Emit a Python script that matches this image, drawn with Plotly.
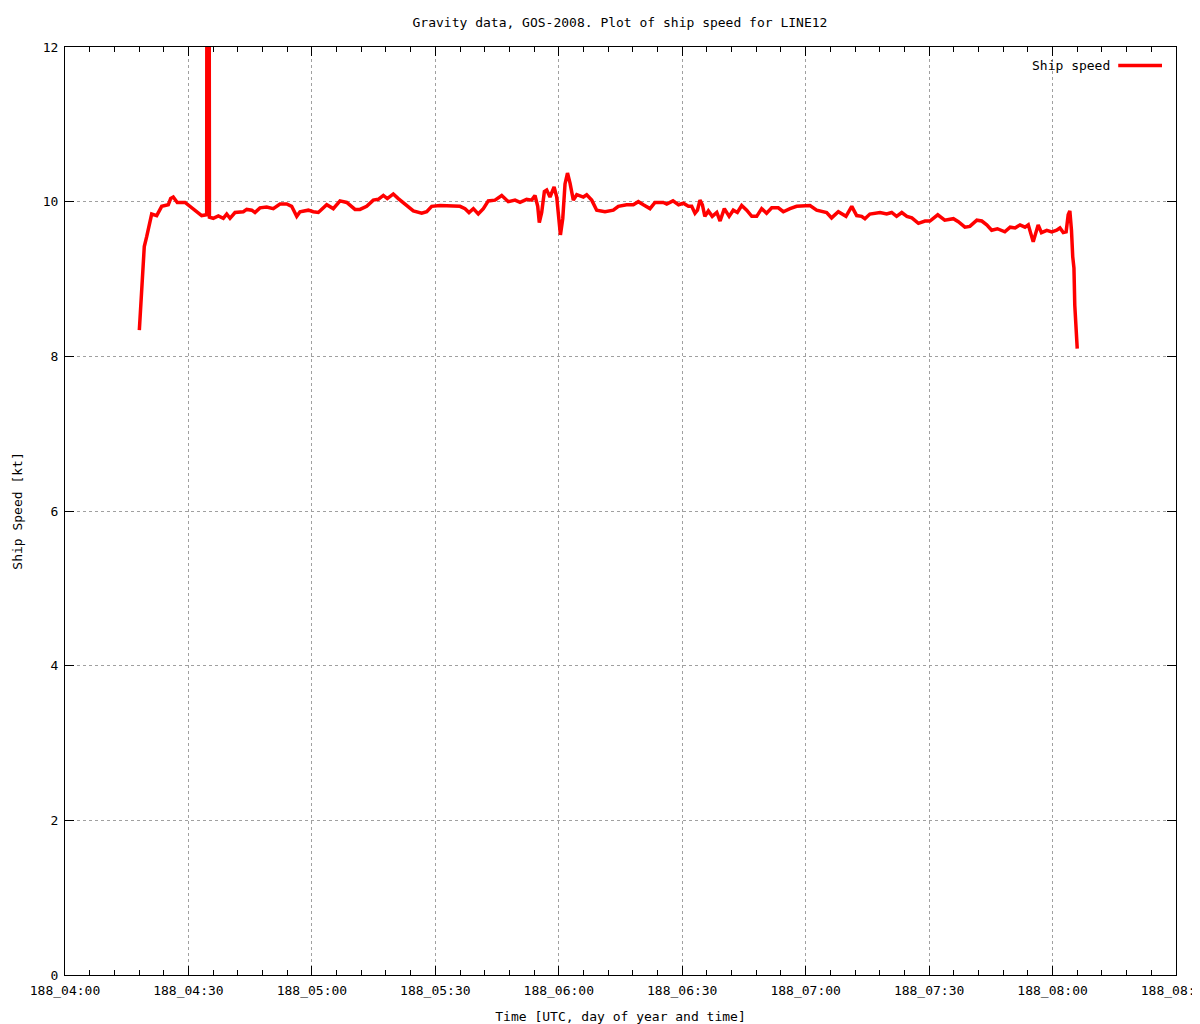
import plotly.graph_objects as go

DAY = "2008-07-06"  # day of year 188

times = [
    "04:18:04", "04:18:24", "04:18:48", "04:19:02", "04:19:16", "04:19:52", "04:20:25", "04:20:50",
    "04:21:04", "04:22:17", "04:23:05", "04:23:30", "04:25:06", "04:25:41", "04:26:19", "04:27:17",
    "04:29:10", "04:30:23", "04:32:00", "04:33:13", "04:34:26", "04:34:42", "04:35:06", "04:36:02",
    "04:37:16", "04:38:28", "04:39:18", "04:40:06", "04:41:19", "04:43:20", "04:44:10", "04:45:22",
    "04:46:10", "04:47:23", "04:49:01", "04:50:37", "04:52:15", "04:53:53", "04:55:05", "04:56:19",
    "04:57:07", "04:59:08", "05:00:20", "05:01:34", "05:03:36", "05:05:12", "05:06:50", "05:08:28",
    "05:10:29", "05:11:41", "05:13:19", "05:14:55", "05:16:08", "05:17:22", "05:18:20", "05:19:47",
    "05:21:00", "05:22:13", "05:23:26", "05:24:39", "05:26:41", "05:27:54", "05:29:07", "05:31:08",
    "05:36:00", "05:37:13", "05:38:11", "05:39:14", "05:40:26", "05:41:40", "05:42:52", "05:44:30",
    "05:46:08", "05:47:44", "05:49:22", "05:50:35", "05:52:12", "05:53:25", "05:54:13", "05:54:53",
    "05:55:16", "05:55:51", "05:56:30", "05:57:04", "05:57:52", "05:58:52", "05:59:30", "06:00:04",
    "06:00:24", "06:00:58", "06:01:31", "06:02:07", "06:02:44", "06:03:32", "06:04:22", "06:05:58",
    "06:06:47", "06:08:00", "06:09:13", "06:11:14", "06:13:15", "06:14:28", "06:16:30", "06:18:07",
    "06:19:20", "06:20:33", "06:22:10", "06:23:23", "06:25:24", "06:26:14", "06:27:45", "06:29:06",
    "06:30:16", "06:31:30", "06:32:18", "06:33:06", "06:33:42", "06:34:19", "06:34:54", "06:35:30",
    "06:36:21", "06:37:18", "06:38:24", "06:39:12", "06:40:14", "06:41:24", "06:42:24", "06:43:24",
    "06:44:27", "06:45:40", "06:46:54", "06:48:06", "06:49:18", "06:50:30", "06:51:45", "06:53:21",
    "06:54:34", "06:56:12", "06:57:48", "07:01:03", "07:02:40", "07:05:06", "07:06:18", "07:07:56",
    "07:09:48", "07:11:12", "07:12:24", "07:13:36", "07:14:24", "07:15:36", "07:18:04", "07:19:42",
    "07:20:54", "07:22:06", "07:23:21", "07:24:36", "07:25:48", "07:27:24", "07:29:00", "07:30:12",
    "07:32:06", "07:33:48", "07:35:54", "07:37:06", "07:38:42", "07:39:54", "07:41:36", "07:42:48",
    "07:44:00", "07:45:12", "07:46:36", "07:48:24", "07:49:42", "07:50:54", "07:52:06", "07:53:18",
    "07:54:06", "07:54:42", "07:55:18", "07:55:54", "07:56:30", "07:57:18", "07:58:36", "07:59:48",
    "08:01:00", "08:01:48", "08:02:36", "08:03:18", "08:03:48", "08:04:12", "08:04:36", "08:04:54",
    "08:05:12", "08:05:24", "08:05:42", "08:06:00",
]

speed_kt = [
    8.34, 8.60, 9.07, 9.20, 9.42, 9.55, 9.68, 9.81,
    9.84, 9.82, 9.89, 9.94, 9.96, 10.04, 10.06, 9.99,
    9.99, 9.94, 9.87, 9.82, 9.83, 30.0, 9.80, 9.785,
    9.815, 9.785, 9.84, 9.785, 9.86, 9.87, 9.90, 9.89,
    9.86, 9.92, 9.93, 9.91, 9.97, 9.97, 9.94, 9.81,
    9.87, 9.89, 9.87, 9.86, 9.96, 9.91, 10.01, 9.99,
    9.90, 9.90, 9.94, 10.02, 10.03, 10.08, 10.04, 10.10,
    10.04, 9.99, 9.94, 9.88, 9.85, 9.87, 9.94, 9.95,
    9.94, 9.91, 9.86, 9.91, 9.84, 9.91, 10.01, 10.02,
    10.08, 10.00, 10.02, 9.99, 10.03, 10.02, 10.08, 9.94,
    9.73, 9.86, 10.13, 10.15, 10.06, 10.19, 10.06, 9.68,
    9.57, 9.78, 10.23, 10.37, 10.24, 10.02, 10.09, 10.06,
    10.09, 10.02, 9.89, 9.87, 9.89, 9.94, 9.96, 9.96,
    10.00, 9.96, 9.91, 9.99, 9.99, 9.97, 10.01, 9.96,
    9.98, 9.94, 9.94, 9.85, 9.89, 10.02, 9.96, 9.81,
    9.88, 9.81, 9.86, 9.75, 9.91, 9.81, 9.89, 9.86,
    9.95, 9.89, 9.81, 9.81, 9.91, 9.85, 9.92, 9.92,
    9.87, 9.91, 9.94, 9.95, 9.89, 9.86, 9.79, 9.87,
    9.81, 9.94, 9.82, 9.81, 9.78, 9.84, 9.86, 9.84,
    9.86, 9.81, 9.86, 9.81, 9.79, 9.72, 9.75, 9.75,
    9.83, 9.76, 9.78, 9.74, 9.67, 9.68, 9.76, 9.75,
    9.70, 9.63, 9.65, 9.61, 9.67, 9.66, 9.70, 9.67,
    9.70, 9.59, 9.48, 9.59, 9.70, 9.60, 9.63, 9.61,
    9.63, 9.66, 9.60, 9.61, 9.83, 9.88, 9.63, 9.29,
    9.14, 8.66, 8.43, 8.10,
]

x_tick_times = ["04:00", "04:30", "05:00", "05:30", "06:00", "06:30", "07:00", "07:30", "08:00", "08:30"]
x_tick_labels = ["188_04:00", "188_04:30", "188_05:00", "188_05:30", "188_06:00",
                 "188_06:30", "188_07:00", "188_07:30", "188_08:00", "188_08:30"]
y_tick_values = [0, 2, 4, 6, 8, 10, 12]

FONT = "DejaVu Sans Mono"
x_full = [f"{DAY} {t}" for t in times]
x_ticks = [f"{DAY} {t}:00" for t in x_tick_times]

fig = go.Figure()
fig.add_trace(go.Scatter(
    x=x_full, y=speed_kt, mode="lines", name="Ship speed",
    line=dict(color="#ff0000", width=3.5), showlegend=False,
))

axis_common = dict(
    showline=True, linecolor="black", linewidth=1, mirror="allticks",
    ticks="inside", ticklen=9, tickcolor="black", tickwidth=1,
    showgrid=True, gridcolor="#a0a0a0", gridwidth=1, griddash="dot",
    zeroline=False, tickfont=dict(family=FONT, size=13, color="black"),
)

fig.update_xaxes(
    type="date", range=[x_ticks[0], x_ticks[-1]],
    tickmode="array", tickvals=x_ticks, ticktext=x_tick_labels,
    ticklabelstandoff=3, ticklabeloverflow="allow",
    minor=dict(dtick=6 * 60 * 1000, ticks="inside", ticklen=5, tickcolor="black", showgrid=False),
    title=dict(text="Time [UTC, day of year and time]", font=dict(family=FONT, size=13, color="black"), standoff=21),
    **axis_common,
)
fig.update_yaxes(
    range=[0, 12], tickmode="array", tickvals=y_tick_values,
    ticklabelstandoff=3,
    title=dict(text="Ship Speed [kt]", font=dict(family=FONT, size=13, color="black"), standoff=17),
    **axis_common,
)

# the page body adds an 8px margin, so the figure is sized to fill the rest of the window
fig.update_layout(
    width=1192, height=1016,
    margin=dict(l=57, r=24, t=39, b=49, autoexpand=False),
    paper_bgcolor="white", plot_bgcolor="white",
    font=dict(family=FONT, size=13, color="black"),
    title=dict(text="Gravity data, GOS-2008. Plot of ship speed for LINE12",
               x=0.5134, xanchor="center", y=1 - 14 / 1016, yanchor="middle",
               font=dict(family=FONT, size=13, color="black")),
)

# gnuplot-style legend: key text to the left of the line sample
fig.add_annotation(text="Ship speed", xref="paper", yref="paper", x=0.942, y=0.98,
                   xanchor="right", yanchor="middle", showarrow=False,
                   font=dict(family=FONT, size=13, color="black"))
fig.add_shape(type="line", xref="paper", yref="paper", x0=0.948, x1=0.9874, y0=0.98, y1=0.98,
              line=dict(color="#ff0000", width=3.5))

fig.write_html("out.html")
